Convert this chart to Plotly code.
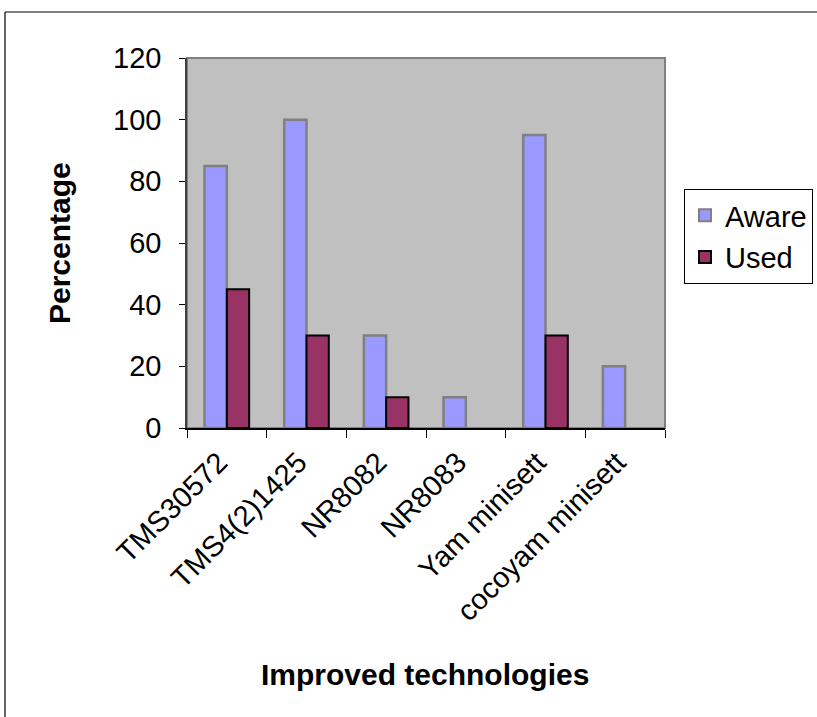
import plotly.graph_objects as go

# Awareness and use of improved technologies (percent of respondents)
technologies = ["TMS30572", "TMS4(2)1425", "NR8082", "NR8083", "Yam minisett", "cocoyam minisett"]
aware = [85, 100, 30, 10, 95, 20]
used = [45, 30, 10, 0, 30, 0]
y_ticks = [0, 20, 40, 60, 80, 100, 120]

FONT = "Liberation Sans, Arial, sans-serif"

fig = go.Figure()
fig.add_trace(go.Bar(
    name="Aware", x=technologies, y=aware, legendgroup="a",
    marker=dict(color="#9999FF", line=dict(color="#808080", width=2.5)),
))
# zero-valued bars get no outline so they leave no mark on the axis
fig.add_trace(go.Bar(
    name="Used", x=technologies, y=used, legendgroup="u",
    marker=dict(color="#993366",
                line=dict(color="#000000", width=[2 if v else 0 for v in used])),
))

# plot area frame and the outer chart border
W, H = 817, 717
L, R, T, B = 187, 152, 58, 289
pw, ph = W - L - R, H - T - B
px = lambda v: (v - L) / pw
py = lambda v: (H - B - v) / ph

shapes = [
    dict(type="rect", xref="paper", yref="paper", x0=0, x1=1, y0=0, y1=1,
         line=dict(color="#808080", width=2), layer="below"),
    dict(type="line", xref="paper", yref="paper", x0=px(5), x1=px(830), y0=py(12), y1=py(12),
         line=dict(color="#000000", width=1.2)),
    dict(type="line", xref="paper", yref="paper", x0=px(5), x1=px(5), y0=py(12), y1=py(730),
         line=dict(color="#000000", width=1.2)),
]

annotations = [
    dict(text="<b>Percentage</b>", xref="paper", yref="paper", x=px(59), y=py(243),
         xanchor="center", yanchor="middle",
         textangle=-90, showarrow=False, font=dict(size=30, color="black", family=FONT)),
    dict(text="<b>Improved technologies</b>", xref="paper", yref="paper", x=px(425), y=py(674),
         xanchor="center", yanchor="middle",
         showarrow=False, font=dict(size=30, color="black", family=FONT)),
]

fig.update_layout(
    width=W, height=H,
    margin=dict(l=L, r=R, t=T, b=B, autoexpand=False),
    paper_bgcolor="white", plot_bgcolor="#C0C0C0",
    barmode="group", bargap=0.44, bargroupgap=0,
    font=dict(family=FONT, color="black", size=29),
    showlegend=True,
    legend=dict(
        x=px(684), y=py(189), xanchor="left", yanchor="top",
        bordercolor="black", borderwidth=1, bgcolor="white",
        font=dict(size=29), traceorder="grouped", tracegroupgap=1,
        itemsizing="constant", itemwidth=30,
    ),
    shapes=shapes, annotations=annotations,
)
fig.update_yaxes(
    range=[0, 120], tickvals=y_ticks, showgrid=False, zeroline=False,
    ticks="outside", ticklen=6, tickcolor="black", tickfont=dict(size=29),
    showline=True, linecolor="#404040", linewidth=1.5, ticklabelstandoff=12,
)
fig.update_xaxes(
    tickangle=-45, tickson="boundaries", ticks="outside", ticklen=8, tickcolor="black",
    showline=True, linecolor="black", linewidth=1.5, tickfont=dict(size=29),
    showgrid=False, ticklabelstandoff=4, ticklabelshift=-8,
)

fig.write_html("out.html")
